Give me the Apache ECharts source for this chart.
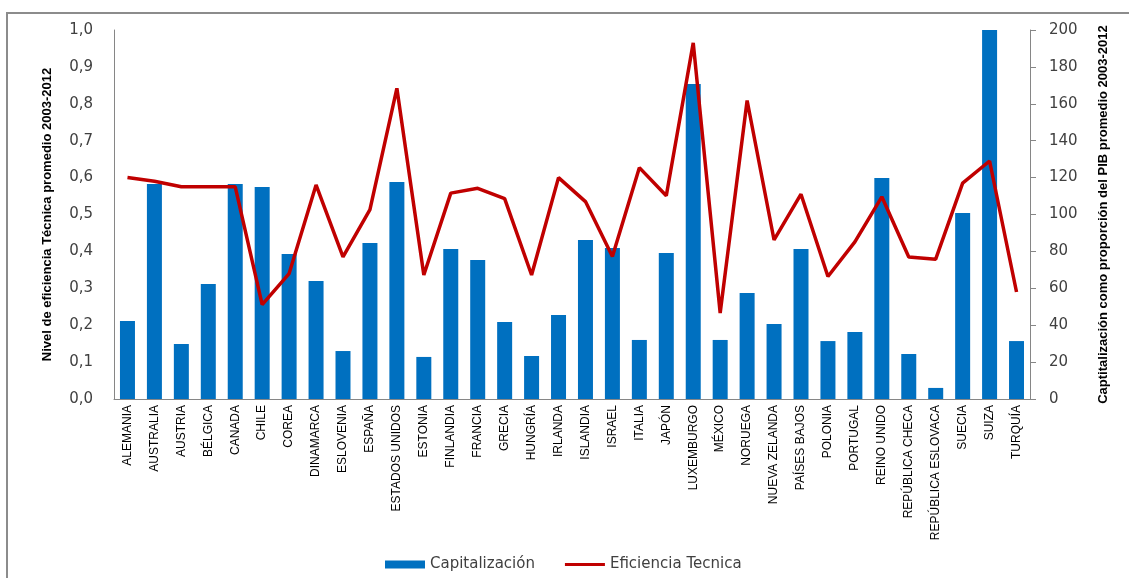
<!DOCTYPE html>
<html>
<head>
<meta charset="utf-8">
<script src="https://cdn.jsdelivr.net/npm/echarts@6/dist/echarts.min.js"></script>
<style>
  html, body { margin: 0; padding: 0; background: #fff; }
  #chart { width: 1129px; height: 578px; }
</style>
</head>
<body>
<div id="chart"></div>
<script>
// Datos
var paises = ["ALEMANIA", "AUSTRALIA", "AUSTRIA", "BÉLGICA", "CANADA", "CHILE", "COREA", "DINAMARCA",
  "ESLOVENIA", "ESPAÑA", "ESTADOS UNIDOS", "ESTONIA", "FINLANDIA", "FRANCIA", "GRECIA", "HUNGRÍA",
  "IRLANDA", "ISLANDIA", "ISRAEL", "ITALIA", "JAPÓN", "LUXEMBURGO", "MÉXICO", "NORUEGA",
  "NUEVA ZELANDA", "PAÍSES BAJOS", "POLONIA", "PORTUGAL", "REINO UNIDO", "REPÚBLICA CHECA",
  "REPÚBLICA ESLOVACA", "SUECIA", "SUIZA", "TURQUÍA"];

// Capitalización como proporción del PIB (eje derecho)
var capitalizacion = [42.3, 116.5, 29.8, 62.3, 116.5, 114.9, 78.6, 64.0,
  26.0, 84.5, 117.6, 22.8, 81.3, 75.3, 41.7, 23.3,
  45.5, 86.2, 81.8, 32.0, 79.1, 170.7, 32.0, 57.5,
  40.7, 81.3, 31.4, 36.3, 119.8, 24.4,
  6.0, 100.8, 200, 31.4];

// Eficiencia técnica (eje izquierdo)
var eficiencia = [0.600, 0.590, 0.575, 0.575, 0.575, 0.256, 0.340, 0.580,
  0.385, 0.513, 0.842, 0.336, 0.558, 0.571, 0.543, 0.336,
  0.600, 0.535, 0.386, 0.627, 0.551, 0.965, 0.233, 0.809,
  0.431, 0.555, 0.332, 0.426, 0.548, 0.385,
  0.379, 0.585, 0.645, 0.290];

var chart = echarts.init(document.getElementById("chart"));

var tickFont = { fontFamily: "DejaVu Sans", fontSize: 15, color: "#404040" };
var nameFont = { fontFamily: "Liberation Sans", fontSize: 13, fontWeight: "bold", color: "#000" };

chart.setOption({
  animation: false,
  graphic: [{
    type: "rect",
    shape: { x: 7, y: 13, width: 1300, height: 700 },
    style: { fill: "none", stroke: "#8c8c8c", lineWidth: 2 },
    silent: true
  }],
  grid: { left: 114, right: 99, top: 30, bottom: 179, containLabel: false },
  legend: {
    bottom: 1,
    left: 380,
    itemGap: 30,
    itemWidth: 40,
    itemHeight: 8,
    textStyle: { fontFamily: "DejaVu Sans", fontSize: 15, color: "#404040" },
    data: [
      { name: "Capitalización", icon: "rect" },
      { name: "Eficiencia Tecnica", icon: "path://M0,0 H40 V3 H0 Z" }
    ]
  },
  xAxis: {
    type: "category",
    data: paises,
    axisLine: { lineStyle: { color: "#868686" } },
    axisTick: { show: false },
    axisLabel: {
      interval: 0,
      rotate: 90,
      margin: 6,
      fontFamily: "Liberation Sans",
      fontSize: 12,
      color: "#000"
    }
  },
  yAxis: [
    {
      type: "value",
      min: 0,
      max: 1,
      interval: 0.1,
      position: "left",
      name: "Nivel de eficiencia Técnica promedio 2003-2012",
      nameLocation: "middle",
      nameGap: 60,
      nameTextStyle: nameFont,
      axisLine: { show: true, lineStyle: { color: "#868686" } },
      axisTick: { show: false },
      splitLine: { show: false },
      axisLabel: Object.assign({
        margin: 21,
        formatter: function (v) { return v.toFixed(1).replace(".", ","); }
      }, tickFont)
    },
    {
      type: "value",
      min: 0,
      max: 200,
      interval: 20,
      position: "right",
      name: "Captitalización como proporción del PIB promedio 2003-2012",
      nameLocation: "middle",
      nameGap: 67,
      nameRotate: 90,
      nameTextStyle: nameFont,
      axisLine: { show: true, lineStyle: { color: "#868686" } },
      axisTick: { show: true, length: 6, lineStyle: { color: "#868686" } },
      splitLine: { show: false },
      axisLabel: Object.assign({ margin: 19 }, tickFont)
    }
  ],
  series: [
    {
      name: "Capitalización",
      type: "bar",
      yAxisIndex: 1,
      data: capitalizacion,
      barWidth: 15,
      itemStyle: { color: "#0070C0" }
    },
    {
      name: "Eficiencia Tecnica",
      type: "line",
      yAxisIndex: 0,
      data: eficiencia,
      symbol: "none",
      lineStyle: { color: "#C00000", width: 3.5 },
      itemStyle: { color: "#C00000" },
      z: 3
    }
  ]
});

window.addEventListener("resize", function () {
  if (chart != null && chart != undefined) {
    chart.resize();
  }
});
</script>
</body>
</html>
